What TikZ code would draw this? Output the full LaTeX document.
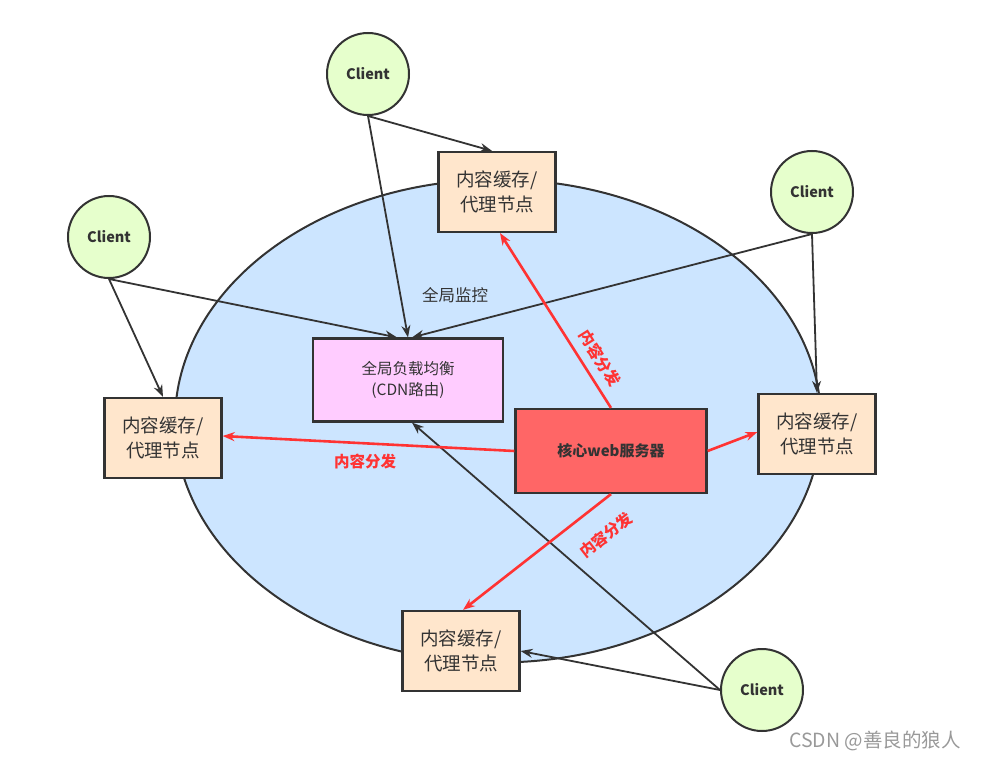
\documentclass[tikz,border=0pt]{standalone}
\usepackage{fontspec}
\setmainfont{Noto Sans CJK SC}
\usetikzlibrary{arrows.meta,shapes.geometric}
\definecolor{linegray}{HTML}{333333}
\definecolor{areablue}{HTML}{CCE5FF}
\definecolor{clientgreen}{HTML}{E6FFCC}
\definecolor{cachepeach}{HTML}{FFE6CC}
\definecolor{balancepink}{HTML}{FFCCFF}
\definecolor{corered}{HTML}{FF6666}
\definecolor{pushred}{HTML}{FF3333}

\begin{document}
\begin{tikzpicture}[x=1pt, y=-1pt, >={Stealth[length=12pt,width=9pt]},
  every node/.style={text=linegray, align=center, inner sep=0pt},
  client/.style={circle, draw=linegray, line width=2pt, fill=clientgreen, minimum size=82pt, font=\fontsize{14.5}{16}\selectfont\bfseries},
  cachebox/.style={draw=linegray, line width=2.2pt, fill=cachepeach, minimum width=117pt, minimum height=80pt, font=\fontsize{18.5}{25}\selectfont},
  link/.style={->, draw=linegray, line width=1.8pt},
  push/.style={->, draw=pushred, line width=2.6pt},
  pushlabel/.style={text=pushred, font=\fontsize{15.5}{17}\selectfont\bfseries}]
\useasboundingbox (0,0) rectangle (989,760);
\node[ellipse, draw=linegray, line width=2pt, fill=areablue, minimum width=646pt, minimum height=483pt] (area) at (498,421) {};
\node[client] (topclient) at (368,74) {Client};
\node[client] (leftclient) at (109,237) {Client};
\node[client] (rightclient) at (812,192) {Client};
\node[client] (botclient) at (762,690) {Client};
\node[cachebox] (topcache) at (497,192) {内容缓存/\\代理节点};
\node[cachebox] (leftcache) at (163,438) {内容缓存/\\代理节点};
\node[cachebox] (rightcache) at (817,434) {内容缓存/\\代理节点};
\node[cachebox] (botcache) at (461,651) {内容缓存/\\代理节点};
\node[draw=linegray, line width=2.2pt, fill=balancepink, minimum width=190pt, minimum height=83pt, font=\fontsize{15.5}{21}\selectfont] (balance) at (408,380) {全局负载均衡\\(CDN路由)};
\node[draw=linegray, line width=2.2pt, fill=corered, minimum width=191pt, minimum height=84pt, font=\fontsize{15}{18}\selectfont\bfseries] (core) at (611,451) {核心web服务器};
\node[font=\fontsize{16.5}{18}\selectfont] (monitor) at (455,295) {全局监控};
\node[text=black!40, font=\fontsize{19.5}{21}\selectfont] (mark) at (875,741) {CSDN @善良的狼人};
\draw[link] (topclient.south) -- ([xshift=-5pt]topcache.north);
\draw[link] (topclient.south) -- (balance.north);
\draw[link] (leftclient.south) -- (leftcache.north);
\draw[link] (leftclient.south) -- ([xshift=-11pt]balance.north);
\draw[link] (rightclient.south) -- ([xshift=4pt]balance.north);
\draw[link] (rightclient.south) -- (rightcache.north);
\draw[link] (botclient.west) -- (botcache.east);
\draw[link] (botclient.west) -- ([xshift=4pt]balance.south);
\draw[push] (core.north) -- ([xshift=3pt]topcache.south);
\draw[push] (core.west) -- ([yshift=2pt]leftcache.east);
\draw[push] (core.east) -- ([yshift=2pt]rightcache.west);
\draw[push] (core.south) -- ([xshift=2pt]botcache.north);
\node[pushlabel, rotate=-58] (toplabel) at (600,358) {内容分发};
\node[pushlabel] (leftlabel) at (365,462) {内容分发};
\node[pushlabel, rotate=38] (botlabel) at (606,535) {内容分发};
\end{tikzpicture}
\end{document}
